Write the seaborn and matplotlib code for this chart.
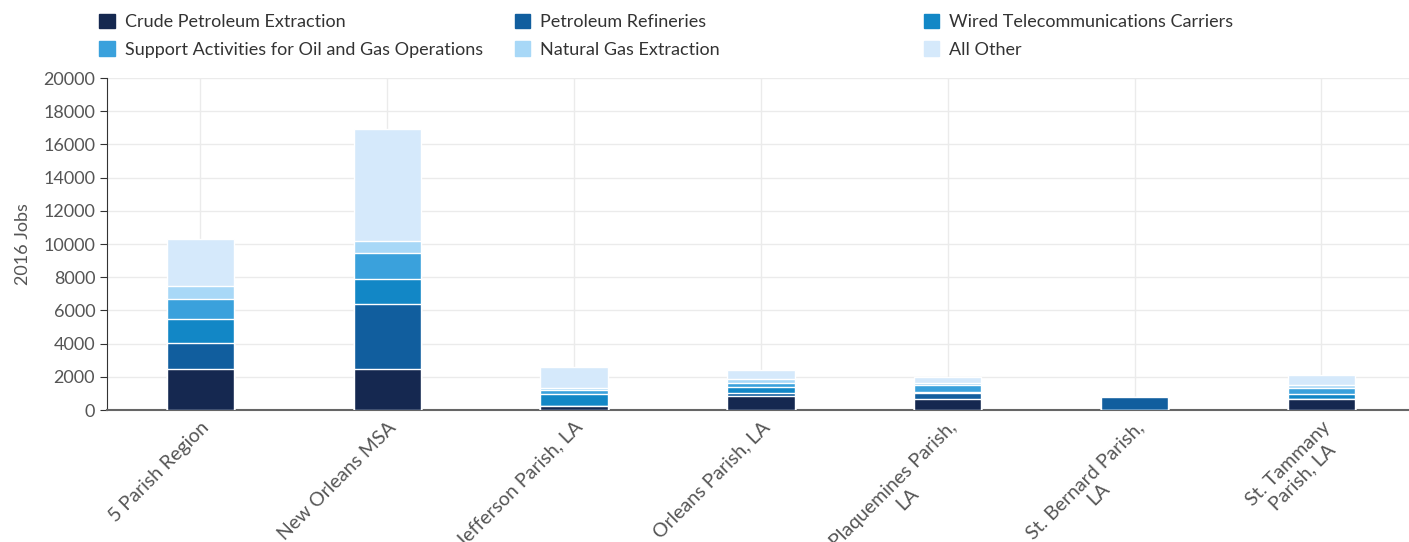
import pandas as pd
import matplotlib.pyplot as plt
import matplotlib.patches as mpatches
import seaborn as sns

# Data
regions = ["5 Parish Region", "New Orleans MSA", "Jefferson Parish, LA", "Orleans Parish, LA",
           "Plaquemines Parish,\nLA", "St. Bernard Parish,\nLA", "St. Tammany\nParish, LA"]
industries = ["Crude Petroleum Extraction", "Petroleum Refineries", "Wired Telecommunications Carriers",
              "Support Activities for Oil and Gas Operations", "Natural Gas Extraction", "All Other"]
crude = [2500, 2500, 230, 860, 640, 0, 640]
refineries = [1550, 3880, 30, 140, 400, 790, 40]
wired = [1450, 1520, 700, 360, 60, 0, 300]
support = [1180, 1530, 230, 280, 400, 0, 320]
natgas = [770, 760, 110, 200, 100, 0, 220]
other = [2830, 6750, 1270, 550, 370, 0, 620]
colors = ["#152850", "#115e9e", "#1287c6", "#3aa1dc", "#a8d8f7", "#d5e9fb"]

df = pd.DataFrame({"region": regions, industries[0]: crude, industries[1]: refineries,
                   industries[2]: wired, industries[3]: support, industries[4]: natgas,
                   industries[5]: other})
cum = df[industries].cumsum(axis=1)
cum["region"] = regions

sns.set_style("white")
plt.rcParams["font.family"] = ["Lato", "DejaVu Sans"]

fig = plt.figure(figsize=(14.09, 5.42), dpi=100)
ax = fig.add_axes([0.0759, 0.2435, 0.9283, 0.6125])

# stacked bars: draw cumulative totals from the top layer down
for ind, col in reversed(list(zip(industries, colors))):
    sns.barplot(data=cum, x="region", y=ind, color=col, width=0.36, saturation=1,
                edgecolor="white", linewidth=1, ax=ax, zorder=3)

ax.set_ylim(0, 20000)
ax.set_yticks(range(0, 20001, 2000))
ax.set_ylabel("2016 Jobs", fontsize=13, color="#555555", labelpad=9)
ax.set_xlabel("")
ax.grid(True, color="#ebebeb", linewidth=1, zorder=0)
ax.set_axisbelow(True)
for s in ["top", "right"]:
    ax.spines[s].set_visible(False)
ax.spines["left"].set_color("#333333")
ax.spines["bottom"].set_color("#666666")
ax.spines["bottom"].set_linewidth(1.5)
ax.tick_params(axis="y", length=5, color="#333333", labelsize=13, labelcolor="#555555", left=True)
ax.tick_params(axis="x", length=0, labelsize=14, labelcolor="#555555", pad=6)
ax.set_xticks(range(len(regions)))
ax.set_xticklabels(regions, rotation=45, ha="right", rotation_mode="anchor", multialignment="center")

# legend: three fixed-position columns, two rows
handles = [mpatches.Patch(color=c, label=l) for l, c in zip(industries, colors)]
col_x = [0.0705, 0.3655, 0.6555]
for i, x in enumerate(col_x):
    leg = fig.legend([handles[i], handles[i + 3]], [industries[i], industries[i + 3]],
                     loc="upper left", bbox_to_anchor=(x, 1 - 14 / 542), frameon=False,
                     fontsize=13, handlelength=0.85, handleheight=0.85, handletextpad=0.55,
                     labelspacing=0.6, borderpad=0, borderaxespad=0, labelcolor="#333333")

fig.savefig("out.png", dpi=100)
